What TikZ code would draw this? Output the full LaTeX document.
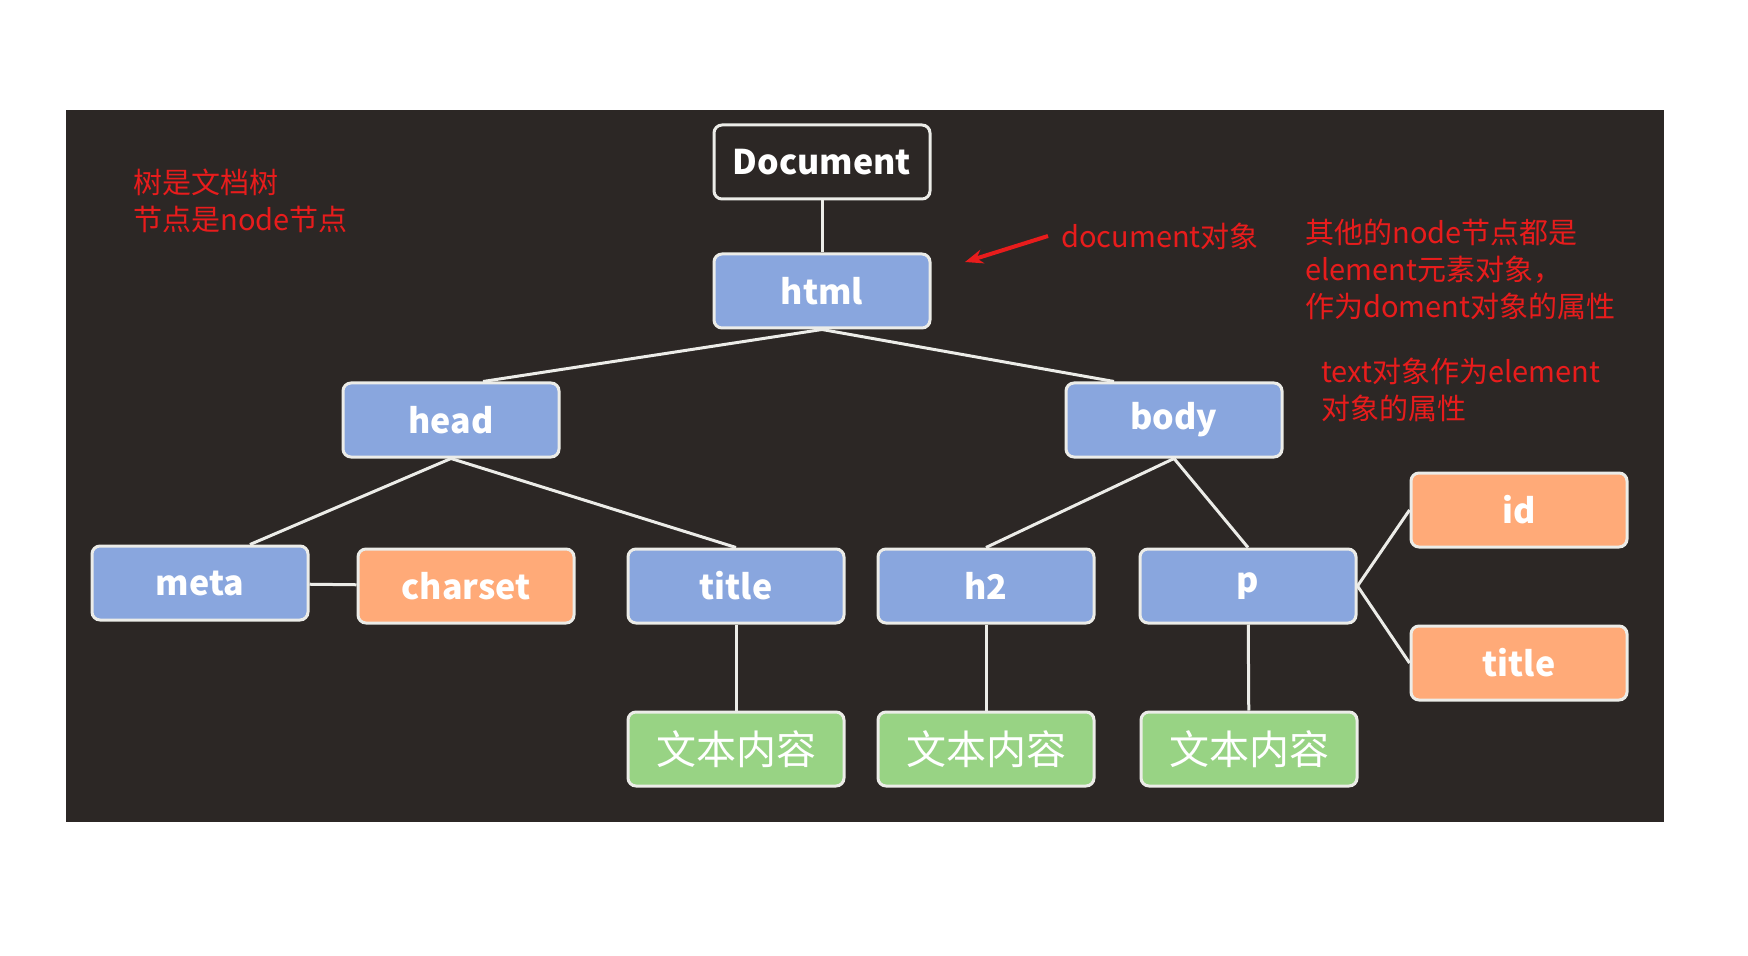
\documentclass[tikz,border=0pt]{standalone}
\usepackage{fontspec}
\usepackage{tikz}
\usetikzlibrary{arrows.meta}
\newfontfamily\cjk{Noto Sans CJK SC}
\definecolor{boardBg}{RGB}{44,39,37}
\definecolor{elemB}{RGB}{137,166,222}
\definecolor{attrO}{RGB}{255,170,120}
\definecolor{textG}{RGB}{152,211,132}
\definecolor{noteR}{RGB}{232,28,28}
\definecolor{chalkW}{RGB}{236,236,232}

\tikzset{
  box/.style={draw=chalkW, line width=1.5pt, rounded corners=4pt, minimum width=108pt,
              minimum height=37pt, text=white, font=\cjk\fontsize{17}{20}\selectfont\bfseries},
  elem/.style={box, fill=elemB},
  attr/.style={box, fill=attrO},
  txt/.style={box, fill=textG, font=\cjk\fontsize{20}{22}\selectfont},
  root/.style={box, fill=boardBg},
  link/.style={chalkW, line width=1.5pt},
  note/.style={text=noteR, align=left, inner sep=0pt, anchor=west,
               font=\cjk\fontsize{14.5}{18.5}\selectfont}
}

\begin{document}
\begin{tikzpicture}[x=0.5pt,y=-0.5pt]
  % page and blackboard, in pixels of the 1748 x 956 sheet
  \useasboundingbox (0,0) rectangle (1748,956);
  \fill[boardBg] (66,110) rectangle (1664,822);

  % tree
  \node[root] (doc) at (822,162) {Document};
  \node[elem] (html) at (822,291) {html};
  \node[elem] (head) at (451,420) {head};
  \node[elem] (body) at (1174,420) {body};
  \node[elem] (meta) at (200,583) {meta};
  \node[attr] (charset) at (466,586) {charset};
  \node[elem] (title) at (736,586) {title};
  \node[elem] (h2) at (986,586) {h2};
  \node[elem] (p) at (1248,586) {p};
  \node[attr] (pid) at (1519,510) {id};
  \node[attr] (ptitle) at (1519,663) {title};
  \node[txt] (tx1) at (736,749) {文本内容};
  \node[txt] (tx2) at (986,749) {文本内容};
  \node[txt] (tx3) at (1249,749) {文本内容};

  % branches
  \draw[link] (doc) -- (html);
  \draw[link] (html.south) -- ([xshift=16]head.north);
  \draw[link] (html.south) -- ([xshift=-30]body.north);
  \draw[link] (head.south) -- ([xshift=25]meta.north);
  \draw[link] (head.south) -- (title.north);
  \draw[link] (body.south) -- (h2.north);
  \draw[link] (body.south) -- (p.north);
  \draw[link] (meta) -- (charset);
  \draw[link] (title) -- (tx1);
  \draw[link] (h2) -- (tx2);
  \draw[link] (p) -- (tx3);
  \draw[link] (p.east) -- (pid.west);
  \draw[link] (p.east) -- (ptitle.west);

  % notes
  \node[note] (treeNote) at (133,201) {树是文档树\\节点是node节点};
  \node[note] (docNote) at (1061,236) {document对象};
  \node[note] (elemNote) at (1305,269) {其他的node节点都是\\element元素对象，\\作为doment对象的属性};
  \node[note] (textNote) at (1321,390) {text对象作为element\\对象的属性};
  \coordinate (arrTail) at (1048,236);
  \coordinate (arrHead) at (965,262);
  \draw[noteR, line width=2pt, -{Stealth[length=9pt,width=7pt]}] (arrTail) -- (arrHead);
\end{tikzpicture}
\end{document}
